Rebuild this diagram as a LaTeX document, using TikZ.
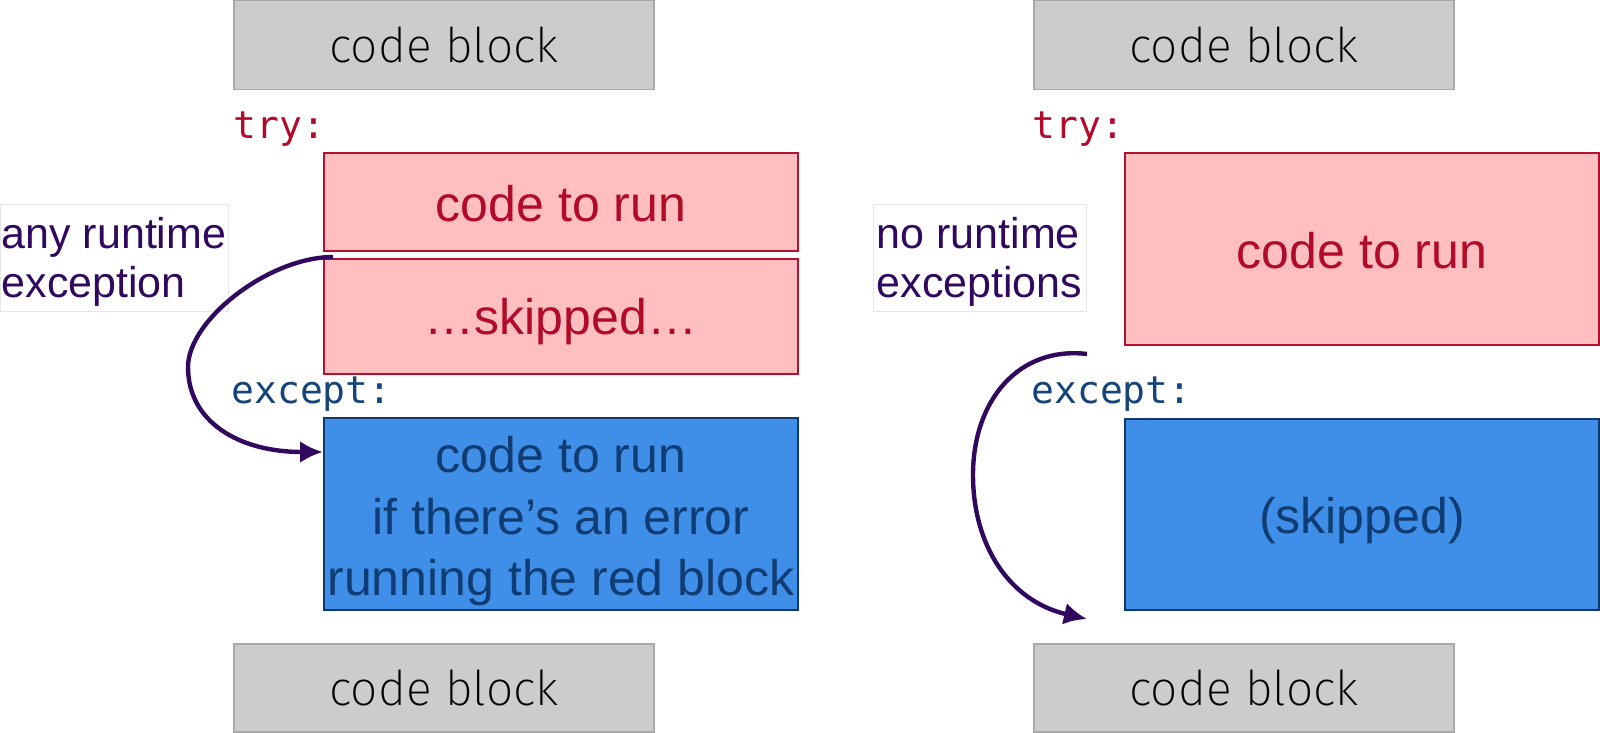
\documentclass[tikz,border=0pt]{standalone}
\usepackage{fontspec}
\setmainfont{Liberation Sans}
\newfontfamily\monofont{DejaVu Sans Mono}
\newfontfamily\thinfont{Fira Sans ExtraLight}
\usetikzlibrary{arrows.meta}
\definecolor{grayfill}{HTML}{CCCCCC}
\definecolor{grayborder}{HTML}{A8A8A8}
\definecolor{redfill}{HTML}{FFBFC1}
\definecolor{redborder}{HTML}{B5102C}
\definecolor{redtext}{HTML}{B20A2A}
\definecolor{bluefill}{HTML}{3F8EE8}
\definecolor{blueborder}{HTML}{0C3A6C}
\definecolor{bluetext}{HTML}{0F3C72}
\definecolor{kwblue}{HTML}{154478}
\definecolor{purp}{HTML}{30095F}
\definecolor{lblborder}{HTML}{E6E6E6}
\newcommand\lowr[2]{\raisebox{-#1}[\height][\depth]{#2}}
\begin{document}
\begin{tikzpicture}[x=0.5pt,y=-0.5pt,
  graybox/.style={draw=grayborder, fill=grayfill, line width=0.75pt, minimum width=210pt, minimum height=44.5pt, inner sep=0pt, font=\thinfont\fontsize{24}{28}\selectfont},
  redbox/.style={draw=redborder, fill=redfill, line width=1pt, minimum width=237pt, inner sep=0pt, text=redtext, font=\fontsize{25}{30}\selectfont},
  bluebox/.style={draw=blueborder, fill=bluefill, line width=1pt, minimum width=237pt, inner sep=0pt, text=bluetext, font=\fontsize{25}{30.75}\selectfont},
  kw/.style={anchor=base west, inner sep=0pt, font=\monofont\fontsize{19}{22}\selectfont},
  lbl/.style={draw=lblborder, fill=white, line width=0.5pt, inner sep=0pt, minimum height=53.5pt, text=purp, font=\fontsize{21.5}{24.5}\selectfont},
  arr/.style={draw=purp, line width=2.2pt, -{Latex[length=11.5pt,width=11pt]}}
]
\useasboundingbox (0,0) rectangle (1600,733);

% ---------- left column ----------
\node[graybox] (gtopL) at (444,45) {code block};
\node[kw, text=redtext] (tryL) at (233,139) {try:};
\node[redbox, minimum height=49pt] (red1) at (561,202) {\lowr{1pt}{code to run}};
\node[redbox, minimum height=57.5pt] (red2) at (561,316.5) {\lowr{2.5pt}{…skipped…}};
\node[kw, text=kwblue] (exceptL) at (231,403) {except:};
\node[bluebox, minimum height=96pt] (blueL) at (561,514) {\lowr{4pt}{\begin{tabular}{@{}c@{}}code to run\\if there’s an error\\running the red block\end{tabular}}};
\node[graybox, minimum height=44pt] (gbotL) at (444,688) {code block};
\node[lbl, minimum width=114pt] (lblL) at (114,257.5) {\lowr{3pt}{\begin{tabular}{@{}l@{}}any runtime\\exception\end{tabular}}};

\coordinate (s1) at ([xshift=5pt,yshift=0.5pt]red2.north west);
\coordinate (m1) at (188,367);
\coordinate (e1) at ([yshift=-17.5pt]blueL.north west);
\draw[arr] (s1) .. controls +(-64,0) and +(0,-47) .. (m1) .. controls +(0,55) and +(-84,0) .. (e1);

% ---------- right column ----------
\node[graybox] (gtopR) at (1244,45) {code block};
\node[kw, text=redtext] (tryR) at (1032,139) {try:};
\node[redbox, minimum height=96pt] (red3) at (1362,249) {\lowr{1pt}{code to run}};
\node[kw, text=kwblue] (exceptR) at (1031,403) {except:};
\node[bluebox, minimum height=95.5pt] (blueR) at (1362,514.5) {\lowr{3pt}{(skipped)}};
\node[graybox, minimum height=44pt] (gbotR) at (1244,688) {code block};
\node[lbl, minimum width=106.5pt] (lblR) at (979.5,257.5) {\lowr{3pt}{\begin{tabular}{@{}l@{}}no runtime\\exceptions\end{tabular}}};

\coordinate (s2) at ([xshift=-18.5pt,yshift=-4pt]red3.south west);
\coordinate (m2) at (973,475);
\coordinate (e2) at ([xshift=-18.5pt,yshift=-4pt]blueR.south west);
\draw[arr] (s2) .. controls +(-68,-8) and +(0,-75) .. (m2) .. controls +(0,70) and +(-78,-18) .. (e2);
\end{tikzpicture}
\end{document}
